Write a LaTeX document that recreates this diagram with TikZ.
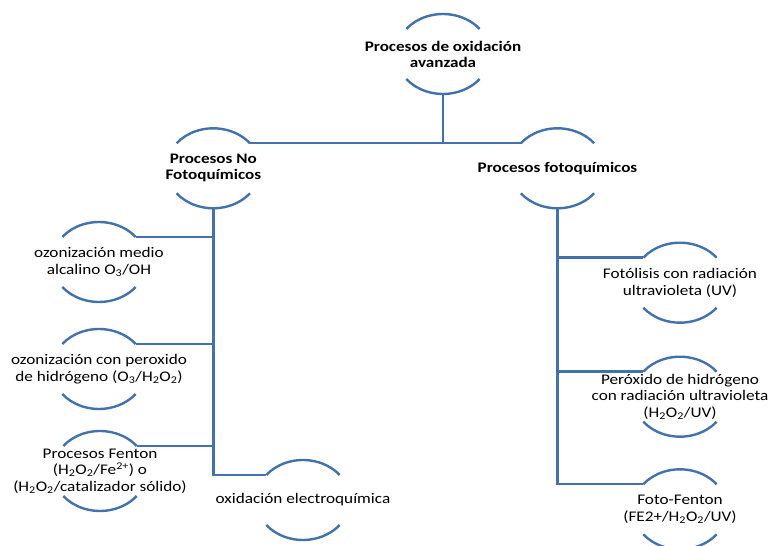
\documentclass[tikz,border=0pt]{standalone}
\usepackage{fontspec}
\setmainfont{Carlito}[FakeStretch=1.17]
\usetikzlibrary{calc}
\definecolor{podBlue}{HTML}{4272AD}
\begin{document}
\begin{tikzpicture}[x=1pt, y=1pt,
  arcline/.style={draw=podBlue, line width=2.4pt},
  link/.style={draw=podBlue, line width=2.4pt},
  lbl/.style={align=center, inner sep=0pt, text=black,
    font=\fontsize{14.7}{16.5}\selectfont},
  lblb/.style={lbl, font=\fontsize{14.6}{16}\selectfont\bfseries}]
  \useasboundingbox (0,0) rectangle (772,546);
  \clip (0,0) rectangle (772,546);
  % top level
  \node[lblb] (root) at (443,492) {Procesos de oxidación\\avanzada};
  \node[lblb] (nofoto) at (213.3,377.7) {Procesos No\\Fotoquímicos};
  \node[lblb] (foto) at (557.5,377.7) {Procesos fotoquímicos};
  % left branch
  \node[lbl] (oz1) at (99,284) {ozonización medio\\alcalino O\textsubscript{3}/OH};
  \node[lbl] (oz2) at (99,177) {ozonización con peroxido\\de hidrógeno (O\textsubscript{3}/H\textsubscript{2}O\textsubscript{2})};
  \node[lbl] (fenton) at (100,75) {Procesos Fenton\\(H\textsubscript{2}O\textsubscript{2}/Fe\textsuperscript{2+}) o\\(H\textsubscript{2}O\textsubscript{2}/catalizador sólido)};
  \node[lbl] (elec) at (303,46) {oxidación electroquímica};
  % right branch
  \node[lbl] (fotol) at (680,263.3) {Fotólisis con radiación\\ultravioleta (UV)};
  \node[lbl] (perox) at (680,149.3) {Peróxido de hidrógeno\\con radiación ultravioleta\\(H\textsubscript{2}O\textsubscript{2}/UV)};
  \node[lbl] (ffenton) at (680,36.7) {Foto-Fenton\\(FE2+/H\textsubscript{2}O\textsubscript{2}/UV)};
  % arcs round every node
  \foreach \n in {root,nofoto,foto,oz1,oz2,fenton,elec,fotol,perox,ffenton} {
    \coordinate (\n-tl) at ($(\n.center)+(-36.7,25)$);
    \coordinate (\n-tr) at ($(\n.center)+(36.7,25)$);
    \coordinate (\n-b) at ($(\n.center)+(0,-40)$);
    \draw[arcline] (\n-tl) arc[start angle=141.3, end angle=38.7, x radius=47pt, y radius=40pt];
    \draw[arcline] ($(\n.center)+(-36.7,-25)$) arc[start angle=218.7, end angle=321.3, x radius=47pt, y radius=40pt];
  }
  % connectors
  \draw[link] (root-b) -- (root-b |- nofoto-tr);
  \draw[link] (nofoto-tr) -- (foto-tl);
  \draw[link] (nofoto-b) |- (oz1-tr);
  \draw[link] (nofoto-b) |- (oz2-tr);
  \draw[link] (nofoto-b) |- (fenton-tr);
  \draw[link] (nofoto-b) |- (elec-tl);
  \draw[link] (foto-b) |- (fotol-tl);
  \draw[link] (foto-b) |- (perox-tl);
  \draw[link] (foto-b) |- (ffenton-tl);
\end{tikzpicture}
\end{document}
